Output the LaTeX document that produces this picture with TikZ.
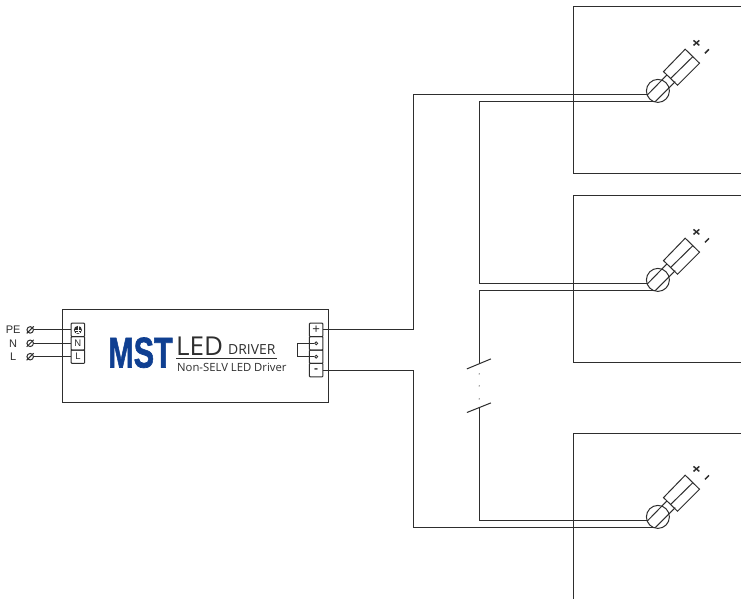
\documentclass[tikz,border=0pt]{standalone}
\usepackage{fontspec}
\setmainfont{Liberation Sans}
\newfontfamily\logofont{Open Sans}
\newfontfamily\heavyfont[FakeBold=1.6]{Liberation Sans Bold}
\definecolor{ink}{HTML}{2E2E2E}
\definecolor{logoblue}{HTML}{0F3F91}
\begin{document}
\begin{tikzpicture}[x=1pt,y=-1pt,
  line width=1pt,
  wire/.style={draw=ink,line width=1pt},
  termbox/.style={draw=ink,rounded corners=0.8pt,line width=1pt,minimum width=13.5pt,minimum height=13.4pt,inner sep=0pt,font=\fontsize{9.5}{9.5}\selectfont,text=ink},
  lbl/.style={inner sep=0pt,font=\fontsize{11}{11}\selectfont,text=ink},
  lamp/.pic={
    \draw[wire] (0,0) circle (11.5);
    \draw[wire] (-10.5,4) -- (9,-16);
    \draw[wire] (-2.7,10.7) -- (17.3,-9.3);
    \draw[wire] (27.3,-41.7) -- (41.6,-27.7) -- (19.6,-5.7) -- (5.6,-19.3) -- cycle;
    \draw[wire] (35,-34.3) -- (13,-12.7);
    \draw[ink,line width=1.5pt] (35.6,-50.5) -- (41.4,-45.5);
    \draw[ink,line width=1.5pt] (35.6,-45.5) -- (41.4,-50.5);
    \draw[ink,line width=1.5pt] (47,-37.5) -- (51,-41.5);
  }]
\useasboundingbox (-0.2,0.1) rectangle (740.8,599.1);
\fill[white] (-0.2,0.1) rectangle (740.8,599.1);
% fixtures
\draw[wire] (740.8,7) -- (573,7) -- (573,174) -- (740.8,174);
\draw[wire] (740.8,196) -- (573,196) -- (573,363) -- (740.8,363);
\draw[wire] (740.8,434) -- (573,434) -- (573,599.1);
% driver
\node[draw=ink,minimum width=266pt,minimum height=93pt,inner sep=0pt,line width=1pt] (driver) at (195,356.5) {};
% left terminals
\node[termbox] (pe) at (77.7,330) {};
\node[termbox] (n) at (77.7,343.4) {N};
\node[termbox] (l) at (77.7,356.8) {L};
\fill[ink] (pe.center) circle (4);
\draw[white,line width=0.5pt] (77.7,326.5) -- (77.7,332) (74.8,330) -- (80.6,330) (76,332) -- (79.4,332);
% right terminals
\node[termbox,font=\fontsize{13}{13}\selectfont] (plus) at (316,330) {+};
\node[termbox] (t2) at (316,343.4) {};
\node[termbox] (t3) at (316,356.8) {};
\node[termbox,font=\bfseries\fontsize{12}{12}\selectfont] (minus) at (316,370.2) {-};
\node[circle,draw=ink,fill=white,inner sep=0pt,minimum size=3pt,line width=0.8pt] (d1) at (316,343.4) {};
\node[circle,draw=ink,fill=white,inner sep=0pt,minimum size=3pt,line width=0.8pt] (d2) at (316,356.8) {};
\coordinate (j) at (297,343.4);
\draw[wire] (d1) -- (j) -- (j |- d2) -- (d2);
% mains
\node[lbl] (tpe) at (13,330) {PE};
\node[lbl] (tn) at (13,343.4) {N};
\node[lbl] (tl) at (13,356.8) {L};
\foreach \nm/\yy/\tg in {a/330/pe,b/343.4/n,c/356.8/l}{
  \node[circle,draw=ink,inner sep=0pt,minimum size=6.5pt,line width=1pt] (s\nm) at (30,\yy) {};
  \draw[wire] (26.5,\yy+3.5) -- (33.5,\yy-3.5);
  \draw[wire] (s\nm) -- (\tg);
}
% logo
\node[inner sep=0pt,anchor=center,text=logoblue] (mst) at (140.3,352.8) {\heavyfont\fontsize{43}{43}\selectfont\scalebox{0.71}[1]{MST}};
\node[inner sep=0pt,anchor=base west,text=ink] (led) at (175.5,355.5) {\logofont\fontsize{26}{26}\selectfont LED};
\node[inner sep=0pt,anchor=base west,text=ink] (drv) at (227.5,354.5) {\logofont\fontsize{13.9}{13.9}\selectfont DRIVER};
\draw[ink,line width=0.9pt] (176,358.5) -- (277,358.5);
\node[inner sep=0pt,anchor=base west,text=ink] (sub) at (176.5,372) {\logofont\fontsize{11.3}{11.3}\selectfont Non-SELV LED Driver};
% lamps
\pic at (657.7,91) {lamp};
\pic at (657.7,280) {lamp};
\pic at (657.7,517) {lamp};
\coordinate (l1a) at (648,95); \coordinate (l1b) at (655,102);
\coordinate (l2a) at (648,284); \coordinate (l2b) at (655,291);
\coordinate (l3a) at (648,521); \coordinate (l3b) at (655,528);
\coordinate (v1) at (413,95); \coordinate (v2) at (413,528);
\coordinate (b1) at (479,102); \coordinate (b2) at (479,284);
\coordinate (b3) at (479,291); \coordinate (b4) at (479,364);
\coordinate (b5) at (479,408); \coordinate (b6) at (479,521);
\draw[wire] (plus) -- (v1 |- plus) -- (v1) -- (l1a);
\draw[wire] (l1b) -- (b1) -- (b2) -- (l2a);
\draw[wire] (l2b) -- (b3) -- (b4);
\draw[wire] (b5) -- (b6) -- (l3a);
\draw[wire] (minus) -- (v2 |- minus) -- (v2) -- (l3b);
\draw[wire] (466.7,369) -- (490.7,359);
\draw[wire] (466.7,412.6) -- (490.7,403);
\foreach \yy in {374,386,399} \fill[ink] (479,\yy) circle (0.6);
\end{tikzpicture}
\end{document}
